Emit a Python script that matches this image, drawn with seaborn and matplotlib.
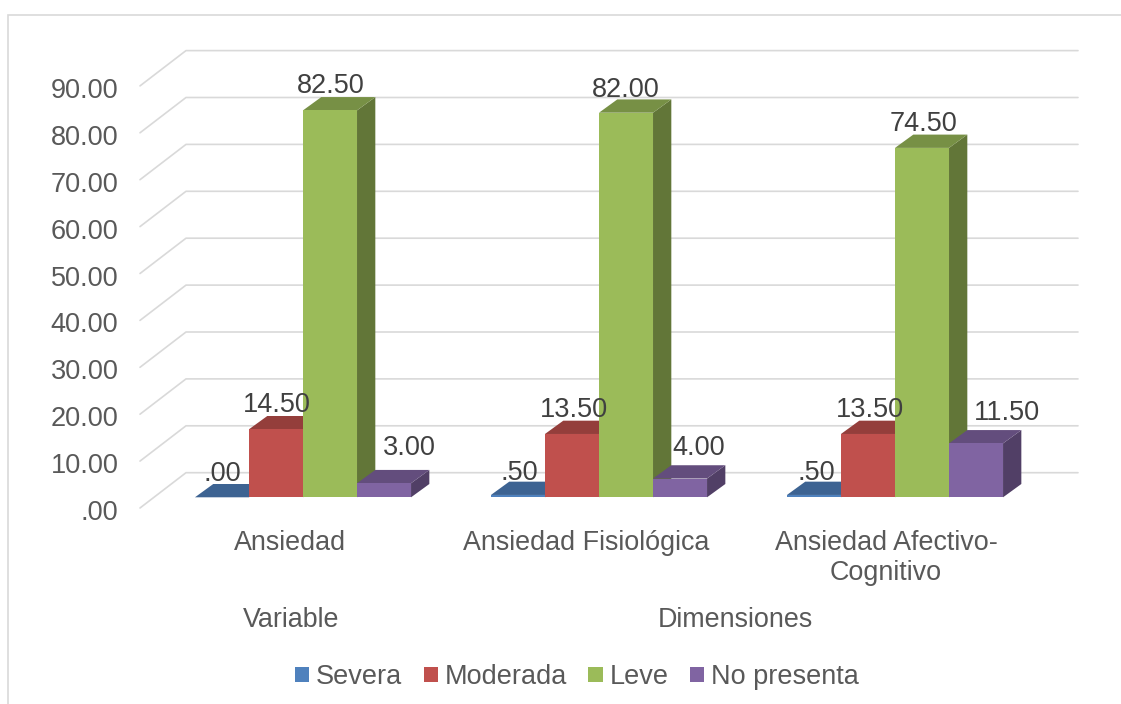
#!/usr/bin/env python3
"""Ansiedad bar chart, Excel style fake 3D on top of a seaborn barplot."""
import matplotlib
matplotlib.use('Agg')
import matplotlib.pyplot as plt
import matplotlib.colors as mcolors
from matplotlib.patches import Polygon, Rectangle
from matplotlib.lines import Line2D
from matplotlib.transforms import Affine2D, IdentityTransform
import pandas as pd
import seaborn as sns

categories = ['Ansiedad', 'Ansiedad Fisiológica', 'Ansiedad Afectivo-\nCognitivo']
levels = ['Severa', 'Moderada', 'Leve', 'No presenta']
severa = [0.0, 0.5, 0.5]
moderada = [14.5, 13.5, 13.5]
leve = [82.5, 82.0, 74.5]
no_presenta = [3.0, 4.0, 11.5]
palette = ['#4F81BD', '#C0504D', '#9BBB59', '#8064A2']
yticks = [0, 10, 20, 30, 40, 50, 60, 70, 80, 90]
groups = ['Variable', 'Dimensiones']

W, H = 1121, 704
PX_X = 296.0       # px per category
PX_Y = 4.69        # px per y unit
DEPTH_X, DEPTH_Y = 18.3, 13.3

sns.set_theme(style='white')
plt.rcParams['font.family'] = ['Liberation Sans', 'DejaVu Sans']

rows = []
for name, vals in zip(levels, [severa, moderada, leve, no_presenta]):
    for cat, v in zip(categories, vals):
        rows.append({'cat': cat, 'level': name, 'value': v})
df = pd.DataFrame(rows)

fig = plt.figure(figsize=(W / 100, H / 100), dpi=100)


def axes_at(left, floor):
    # axes whose y=0 sits at pixel row `floor`, same scale for both planes
    return fig.add_axes([left / W, (H - floor) / H, 3 * PX_X / W, 90 * PX_Y / H])


wall = axes_at(142, 508.0)   # front edge of the floor, carries the y labels
ax = axes_at(155, 497.3)     # front face of the bars
wall.set_zorder(1)
ax.set_zorder(2)
for a in (wall, ax):
    a.set_xlim(-0.5, 2.5)
    a.set_ylim(0, 90)
    a.patch.set_visible(False)
    sns.despine(ax=a, left=True, bottom=True)

sns.barplot(data=df, x='cat', y='value', hue='level', order=categories, hue_order=levels,
            palette=palette, saturation=1, width=0.73, gap=0, legend=False, ax=ax,
            edgecolor='none', linewidth=0)
ax.set_xlim(-0.5, 2.5)
ax.set_ylim(0, 90)
ax.set_xlabel('')
ax.set_ylabel('')
ax.set_xticks([])
ax.set_yticks([])

# walls: diagonal on the left and the long line at the back
grid = '#D9D9D9'
for v in yticks:
    y_front = wall.transData.transform((0, v))[1]
    y_back = y_front + 35.3
    wall.add_line(Line2D([140, 186, 1078], [y_front, y_back, y_back], color=grid, lw=1.2,
                         transform=IdentityTransform(), clip_on=False, zorder=1))

wall.set_xticks([])
wall.set_yticks(yticks, [f'{v:.2f}'.lstrip('0') if v == 0 else f'{v:.2f}' for v in yticks])
wall.tick_params(axis='y', length=0, pad=17, labelsize=19.5, labelcolor='#595959')
for lab in wall.get_yticklabels():
    lab.set_transform(lab.get_transform() + Affine2D().translate(0, -2))

# depth faces, built from the bars seaborn drew
dx = DEPTH_X / PX_X
dy = DEPTH_Y / PX_Y


def shade(color, factor):
    return tuple(c * factor for c in mcolors.to_rgb(color))


for i, cont in enumerate(ax.containers):
    for bar in cont:
        x0, w, top = bar.get_x(), bar.get_width(), bar.get_height()
        x1 = x0 + w
        z = 3 + i
        bar.set_zorder(z + 0.5)
        ax.add_patch(Polygon([(x1, 0), (x1 + dx, dy), (x1 + dx, top + dy), (x1, top)],
                             fc=shade(palette[i], 0.63), ec='none', zorder=z, clip_on=False))
        ax.add_patch(Polygon([(x0, top), (x0 + dx, top + dy), (x1 + dx, top + dy), (x1, top)],
                             fc=shade(palette[i], 0.77), ec='none', zorder=z, clip_on=False))

# data labels, nudged by hand like the original (px from top centre of the bar)
nudges = [[(0, 23), (1, 22), (2, 22)],
          [(1, 24), (2, 24), (2, 24)],
          [(1, 24), (0, 23), (1, 24)],
          [(25, 35), (19, 31), (31, 30)]]
for i, cont in enumerate(ax.containers):
    for j, bar in enumerate(cont):
        v = bar.get_height()
        text = f'{v:.2f}'.lstrip('0') if v < 1 else f'{v:.2f}'
        ax.annotate(text, (bar.get_x() + bar.get_width() / 2, v), xytext=nudges[i][j],
                    textcoords='offset pixels', ha='center', va='center', fontsize=19.5,
                    color='#404040', zorder=20, annotation_clip=False)

# category labels and the second level of the axis
label_nudge = [0, 0, 4]
for j, cat in enumerate(categories):
    wall.annotate(cat, (j, 0), xytext=(label_nudge[j], -22), textcoords='offset pixels',
                  ha='center', va='top', fontsize=19.4, color='#595959', linespacing=1.2,
                  annotation_clip=False)
for name, pos in zip(groups, [0, 1.5]):
    wall.annotate(name, (pos, 0), xytext=(1, -112), textcoords='offset pixels',
                  ha='center', va='center', fontsize=19.4, color='#595959',
                  annotation_clip=False)

fig.legend([c[0] for c in ax.containers], levels, loc='center', ncol=4,
           bbox_to_anchor=(577 / W, 1 - 677 / H), frameon=False, fontsize=19.5,
           labelcolor='#595959', handlelength=0.52, handleheight=0.52,
           handletextpad=0.27, columnspacing=0.78)

# chart area border, no line visible on the right side of the crop
fig.add_artist(Rectangle((8 / W, -0.02), 1.1, 1 - 15 / H + 0.02, transform=fig.transFigure,
                         fc='none', ec=grid, lw=1.2))

fig.savefig('out.png', dpi=100)
